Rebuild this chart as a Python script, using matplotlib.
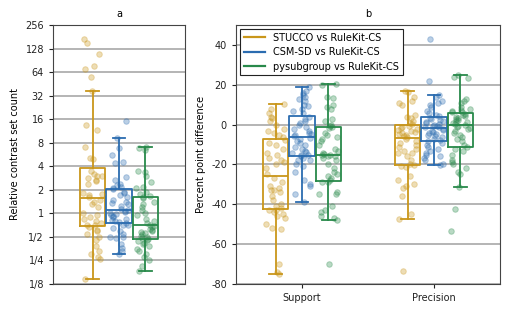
import numpy as np
import matplotlib
matplotlib.use("Agg")
import matplotlib.pyplot as plt

# ---------------- data ----------------
series_names = ["STUCCO vs RuleKit-CS", "CSM-SD vs RuleKit-CS", "pysubgroup vs RuleKit-CS"]
colors = ["#c9961a", "#2b6cb0", "#28894a"]

# Panel a: relative contrast set count (ratio)
count_stucco = [168, 149, 109, 77, 70, 55, 37, 13.6, 11.7, 7.1, 5.1, 5.0,
                3.5, 3.2, 3.0, 3.0, 2.8, 2.7, 2.6, 2.4, 1.8, 1.75, 1.7, 1.6,
                1.5, 1.4, 1.3, 1.2, 1.0, 0.95, 0.9, 0.85, 0.8, 0.75, 0.72, 0.7,
                0.66, 0.62, 0.6, 0.55, 0.5, 0.45, 0.38, 0.33, 0.3, 0.28, 0.26, 0.143]
count_csmsd = [15, 9.1, 6.9, 5.5, 4.5, 4.4, 2.95, 2.7, 2.4, 2.3, 2.2, 2.12,
               2.05, 1.9, 1.8, 1.7, 1.6, 1.5, 1.4, 1.35, 1.3, 1.25, 1.15, 1.1,
               1.08, 1.05, 1.0, 0.98, 0.95, 0.92, 0.9, 0.85, 0.82, 0.8, 0.78, 0.75,
               0.72, 0.7, 0.65, 0.6, 0.55, 0.5, 0.5, 0.48, 0.4, 0.36, 0.33, 0.30]
count_pysub = [7.05, 6.8, 6.5, 3.5, 3.4, 3.0, 2.5, 2.2, 2.1, 1.9, 1.75, 1.68,
               1.6, 1.55, 1.4, 1.3, 1.2, 1.1, 1.0, 0.95, 0.85, 0.8, 0.75, 0.72,
               0.68, 0.66, 0.64, 0.62, 0.6, 0.58, 0.56, 0.54, 0.52, 0.5, 0.48, 0.47,
               0.45, 0.44, 0.42, 0.4, 0.38, 0.35, 0.33, 0.3, 0.28, 0.25, 0.21, 0.183]

# Panel b: percent point difference
metrics = ["Support", "Precision"]
support_stucco = [10.2, 8, 6, 4, 3.5, 2, 0, -2, -3, -4, -5, -6,
                  -7.5, -9, -10, -12, -14, -15, -17, -18, -19, -20, -22, -25,
                  -27, -29, -31, -32, -33, -33, -34, -36, -38, -40, -41, -42,
                  -43, -43, -44, -45, -46, -47, -50, -52, -52.5, -70, -74, -75.2]
support_csmsd = [19, 17, 16, 15, 14, 13, 12, 10, 9.5, 8, 7, 6,
                 4, 3, 2, 1, 0, -1, -2, -3, -4, -4.5, -5, -5.5,
                 -6.5, -7, -8, -9, -10, -11, -12, -13, -13.5, -14, -15, -15.5,
                 -16, -17, -18, -18, -20, -21, -24, -28, -30, -31, -35, -39]
support_pysub = [20.4, 20, 14, 13.5, 10, 9, 8, 3, 2, 0, -0.5, -1,
                 -1.5, -4, -5, -6, -7, -8, -10, -12, -13, -14, -14.5, -15,
                 -15.5, -16, -16, -17, -18, -20, -22, -24, -25, -26, -27, -28,
                 -29, -29, -34, -35, -35, -41, -43, -44, -46, -47, -48.1, -70.2]
precision_stucco = [16.9, 16.5, 14, 12, 11, 10, 5, 4, 3.5, 2, 1, 0.5,
                    -0.5, -1, -1.5, -2, -2.5, -3, -3.5, -4, -4.5, -5, -5.5, -6,
                    -7, -8, -9, -10, -11, -12, -13, -14, -14, -16, -18, -20,
                    -20.5, -21, -21.5, -26, -28, -30, -31, -32, -36, -45, -47.5, -73.7]
precision_csmsd = [42.9, 22, 15, 14, 12, 11, 10, 9, 7, 6, 5, 4.5,
                   3.5, 3, 2.5, 2, 1.5, 1, 0.5, 0, -0.5, -0.8, -1, -1.3,
                   -2, -2.5, -3, -3.5, -4, -4.5, -5, -5.5, -6, -7, -7.5, -8,
                   -9, -10, -11, -12, -13, -14, -15, -16, -17, -18, -20, -20.4]
precision_pysub = [24.9, 24, 23.5, 13, 12, 11, 9, 8, 7.5, 7, 6.5, 6.2,
                   5.5, 5, 4.5, 4, 3.5, 3, 2.5, 2, 1.5, 1, 0.5, 0,
                   -0.5, -1, -1.5, -2, -3, -4, -5, -6, -7, -8, -10, -11,
                   -12, -13, -15, -18, -19, -20, -22, -24, -25, -31.4, -42.5, -53.4]

count_ticks = [-3, -2, -1, 0, 1, 2, 3, 4, 5, 6, 7, 8]
count_tick_labels = ["1/8", "1/4", "1/2", "1", "2", "4", "8", "16", "32", "64", "128", "256"]

# ---------------- style ----------------
plt.rcParams["font.family"] = ["DejaVu Sans"]
plt.rcParams["font.size"] = 7
FS = 7
rng = np.random.default_rng(3)
offsets = [-0.2, 0.0, 0.2]
box_w = 0.19
spine_c = "#444444"
grid_c = "#a8a8a8"

fig = plt.figure(figsize=(5.10, 3.13), dpi=100)
axa = fig.add_axes([53 / 510, 1 - 284 / 313, 132 / 510, 259 / 313])
axb = fig.add_axes([236 / 510, 1 - 284 / 313, 264 / 510, 259 / 313])


def draw_group(ax, vals, pos, color):
    vals = np.asarray(vals, dtype=float)
    bp = ax.boxplot([vals], positions=[pos], widths=box_w, whis=1.5,
                    showfliers=False, patch_artist=False, manage_ticks=False,
                    boxprops=dict(color=color, linewidth=1.3),
                    medianprops=dict(color=color, linewidth=1.3),
                    whiskerprops=dict(color=color, linewidth=1.3),
                    capprops=dict(color=color, linewidth=1.3))
    for cap in bp["caps"]:
        x = cap.get_xdata()
        c = (x[0] + x[1]) / 2
        cap.set_xdata([c - box_w / 4, c + box_w / 4])
    jit = rng.uniform(-0.075, 0.075, size=len(vals))
    ax.scatter(pos + jit, vals, s=16, facecolor=color, edgecolor=color,
               alpha=0.32, linewidths=0.7, zorder=3)
    return bp


# Panel a
for i, vals in enumerate([count_stucco, count_csmsd, count_pysub]):
    draw_group(axa, np.log2(vals), offsets[i], colors[i])
axa.set_xlim(-0.5, 0.5)
axa.set_ylim(-3, 8)
axa.set_yticks(count_ticks)
axa.set_yticklabels(count_tick_labels, fontsize=FS)
axa.set_xticks([])
axa.set_ylabel("Relative contrast set count", fontsize=FS)
axa.set_title("a", fontsize=FS, pad=6)

# Panel b
groups_b = [[support_stucco, support_csmsd, support_pysub],
            [precision_stucco, precision_csmsd, precision_pysub]]
for m, grp in enumerate(groups_b):
    for i, vals in enumerate(grp):
        draw_group(axb, vals, m + offsets[i], colors[i])
axb.set_xlim(-0.5, 1.5)
axb.set_ylim(-80, 50)
axb.set_yticks([-80, -60, -40, -20, 0, 20, 40])
axb.set_yticklabels(["-80", "-60", "-40", "-20", "0", "20", "40"], fontsize=FS)
axb.set_xticks([0, 1])
axb.set_xticklabels(metrics, fontsize=FS)
axb.set_ylabel("Percent point difference", fontsize=FS)
axb.set_title("b", fontsize=FS, pad=6)

handles = [plt.Line2D([], [], color=c, linewidth=1.6) for c in colors]
leg = axb.legend(handles, series_names, loc="upper left", fontsize=FS,
                 frameon=True, fancybox=False, borderaxespad=0.4,
                 handlelength=2.2, labelspacing=0.45)
leg.get_frame().set_edgecolor("#222222")
leg.get_frame().set_linewidth(0.8)
leg.get_frame().set_alpha(1.0)

for ax in (axa, axb):
    ax.yaxis.grid(True, color=grid_c, linewidth=1.2)
    ax.set_axisbelow(True)
    for s in ax.spines.values():
        s.set_color(spine_c)
        s.set_linewidth(0.8)
    ax.tick_params(colors="#222222", length=3, width=0.8, labelsize=FS)

fig.savefig("out.png", dpi=100)
